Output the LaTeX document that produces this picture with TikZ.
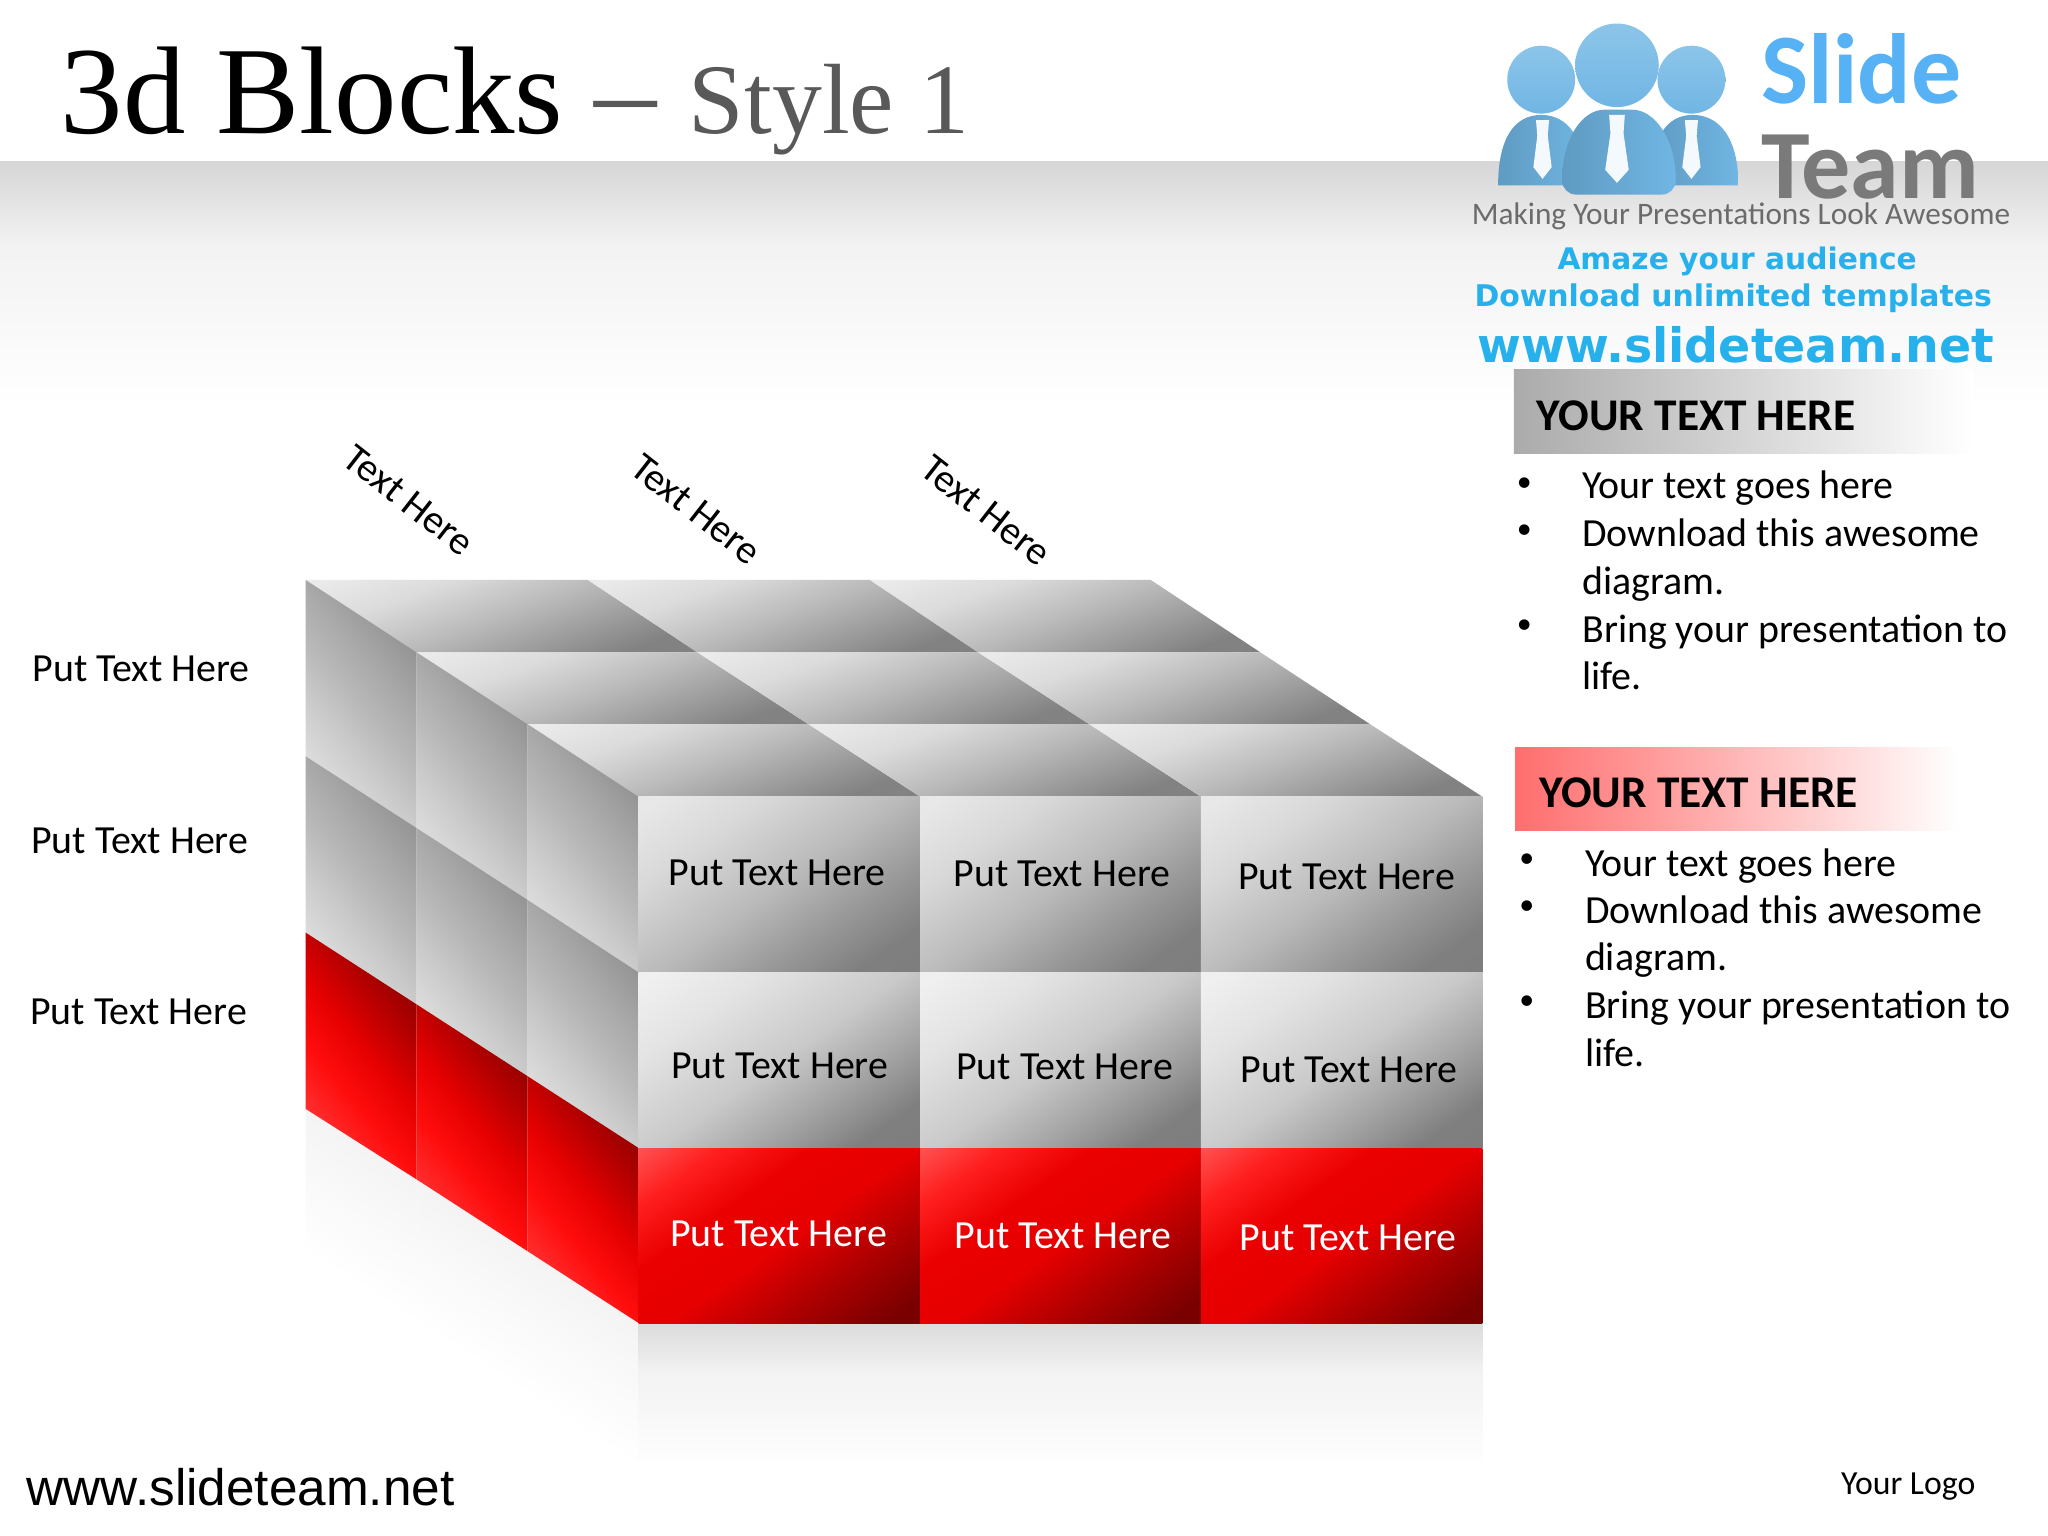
\documentclass[tikz,border=0pt]{standalone}
\usepackage{fontspec}
\usepackage{xcolor}
\usetikzlibrary{positioning,calc}
\setmainfont{Carlito}
\newfontfamily\titlefont{Liberation Serif}
\newfontfamily\webfont{Liberation Sans}
\newfontfamily\promofont{DejaVu Sans}
\definecolor{logoblue}{RGB}{112,182,228}
\definecolor{promoblue}{RGB}{38,176,236}
\definecolor{slideblue}{RGB}{86,178,244}
\pgfdeclareverticalshading{frontgrayfade}{100bp}{color(0bp)=(black!52); color(24bp)=(black!50); color(36bp)=(black!40); color(50bp)=(black!27); color(68bp)=(black!15); color(82bp)=(black!9); color(100bp)=(black!8)}
\pgfdeclareverticalshading{frontlightfade}{100bp}{color(0bp)=(black!52); color(24bp)=(black!50); color(36bp)=(black!36); color(50bp)=(black!21); color(68bp)=(black!11); color(82bp)=(black!6); color(100bp)=(black!5)}
\pgfdeclareverticalshading{frontredfade}{100bp}{color(0bp)=(red!45!black); color(20bp)=(red!48!black); color(34bp)=(red!68!black); color(48bp)=(red!90!black); color(62bp)=(red!92!black); color(74bp)=(red!88!white); color(88bp)=(red!62!white); color(100bp)=(red!60!white)}
\pgfdeclareverticalshading{topfade}{100bp}{color(0bp)=(black!50); color(26bp)=(black!49); color(38bp)=(black!38); color(50bp)=(black!27); color(66bp)=(black!14); color(80bp)=(black!8); color(100bp)=(black!7)}
\pgfdeclareverticalshading{sidefade}{100bp}{color(0bp)=(black!8); color(22bp)=(black!10); color(40bp)=(black!21); color(50bp)=(black!28); color(60bp)=(black!34); color(78bp)=(black!46); color(100bp)=(black!48)}
\pgfdeclareverticalshading{sideredfade}{100bp}{color(0bp)=(red!78!white); color(26bp)=(red!80!white); color(40bp)=(red!95!white); color(52bp)=(red!90!black); color(66bp)=(red!68!black); color(78bp)=(red!52!black); color(100bp)=(red!50!black)}
\pgfdeclareverticalshading{shinefade}{100bp}{color(0bp)=(white); color(25bp)=(white); color(58bp)=(black!5); color(75bp)=(black!14); color(100bp)=(black!14)}
\pgfdeclareverticalshading{sideshinefade}{100bp}{color(0bp)=(white); color(38bp)=(white); color(60bp)=(black!3); color(80bp)=(black!6); color(100bp)=(black!6)}
\pgfdeclareverticalshading{bandfade}{100bp}{color(0bp)=(white); color(25bp)=(white); color(58bp)=(black!5); color(75bp)=(black!16); color(100bp)=(black!16)}

\begin{document}
\begin{tikzpicture}[
    x=0.013061cm, y=-0.013061cm,
    frontgray/.style={shading=frontgrayfade, shading angle=35},
    frontlight/.style={shading=frontlightfade, shading angle=35},
    frontred/.style={shading=frontredfade, shading angle=35},
    topgray/.style={shading=topfade, shading angle=20},
    sidegray/.style={shading=sidefade, shading angle=-50},
    sidered/.style={shading=sideredfade, shading angle=-50},
    shine/.style={shading=shinefade},
    sideshine/.style={shading=sideshinefade, shading angle=-33},
    lab/.style={font=\fontsize{11.35}{13}\selectfont, inner sep=0pt},
    toplab/.style={lab, rotate=-38},
    head/.style={font=\fontsize{12.9}{15}\selectfont\bfseries, anchor=west, inner sep=0pt},
    bul/.style={font=\fontsize{8.5}{10}\selectfont, inner sep=0pt},
    item/.style={font=\fontsize{11.35}{13.6}\selectfont, anchor=north west, align=left, inner sep=0pt},
    man/.style={left color=logoblue!85!black, right color=logoblue},
    skull/.style={top color=logoblue!80!white, bottom color=logoblue},
    tie/.style={fill=white!92!logoblue}
]
\useasboundingbox (0,0) rectangle (1568,1176);
% background band
\fill[white] (0,0) rectangle (1568,1176);
\shade[shading=bandfade] (0,124) rectangle (1568,310);

% reflections
\shade[sideshine] (234,849) -- (319,903) -- (319,1040) -- (234,985) -- cycle;
\shade[sideshine] (319,903) -- (404,958) -- (404,1095) -- (319,1040) -- cycle;
\shade[sideshine] (404,958) -- (489,1013) -- (489,1150) -- (404,1095) -- cycle;
\shade[shine] (489,1013) rectangle (704.5,1125);
\shade[shine] (704.5,1013) rectangle (919.5,1125);
\shade[shine] (919.5,1013) rectangle (1135,1125);

% top of the blocks
\shade[topgray] (234,444) -- (450,444) -- (534,499.5) -- (319,499.5) -- cycle;
\shade[topgray] (450,444) -- (666,444) -- (749,499.5) -- (534,499.5) -- cycle;
\shade[topgray] (666,444) -- (881,444) -- (965,499.5) -- (749,499.5) -- cycle;
\shade[topgray] (319,499.5) -- (534,499.5) -- (619,554.5) -- (404,554.5) -- cycle;
\shade[topgray] (534,499.5) -- (749,499.5) -- (834,554.5) -- (619,554.5) -- cycle;
\shade[topgray] (749,499.5) -- (965,499.5) -- (1049,554.5) -- (834,554.5) -- cycle;
\shade[topgray] (404,554.5) -- (619,554.5) -- (704.5,610) -- (489,610) -- cycle;
\shade[topgray] (619,554.5) -- (834,554.5) -- (919.5,610) -- (704.5,610) -- cycle;
\shade[topgray] (834,554.5) -- (1049,554.5) -- (1135,610) -- (919.5,610) -- cycle;

% left side of the blocks
\shade[sidegray] (234,444) -- (319,499.5) -- (319,634) -- (234,579) -- cycle;
\shade[sidegray] (319,499.5) -- (404,554.5) -- (404,689) -- (319,634) -- cycle;
\shade[sidegray] (404,554.5) -- (489,610) -- (489,744.5) -- (404,689) -- cycle;
\shade[sidegray] (234,579) -- (319,634) -- (319,769) -- (234,714) -- cycle;
\shade[sidegray] (319,634) -- (404,689) -- (404,824) -- (319,769) -- cycle;
\shade[sidegray] (404,689) -- (489,744.5) -- (489,879) -- (404,824) -- cycle;
\shade[sidered] (234,714) -- (319,769) -- (319,903) -- (234,849) -- cycle;
\shade[sidered] (319,769) -- (404,824) -- (404,958) -- (319,903) -- cycle;
\shade[sidered] (404,824) -- (489,879) -- (489,1013) -- (404,958) -- cycle;

% front of the blocks
\shade[frontgray] (489,610) rectangle (704.5,744.5);
\shade[frontgray] (704.5,610) rectangle (919.5,744.5);
\shade[frontgray] (919.5,610) rectangle (1135,744.5);
\shade[frontlight] (489,744.5) rectangle (704.5,879);
\shade[frontlight] (704.5,744.5) rectangle (919.5,879);
\shade[frontlight] (919.5,744.5) rectangle (1135,879);
\shade[frontred] (489,879) rectangle (704.5,1013);
\shade[frontred] (704.5,879) rectangle (919.5,1013);
\shade[frontred] (919.5,879) rectangle (1135,1013);

\node[lab] (f11) at (595,668) {Put Text Here};
\node[lab] (f12) at (813,669) {Put Text Here};
\node[lab] (f13) at (1031,671) {Put Text Here};
\node[lab] (f21) at (597,816) {Put Text Here};
\node[lab] (f22) at (815,817) {Put Text Here};
\node[lab] (f23) at (1033,819) {Put Text Here};
\node[lab, white] (f31) at (596,945) {Put Text Here};
\node[lab, white] (f32) at (814,946) {Put Text Here};
\node[lab, white] (f33) at (1032,948) {Put Text Here};

\node[lab] (s1) at (108,512) {Put Text Here};
\node[lab] (s2) at (107,644) {Put Text Here};
\node[lab] (s3) at (106,775) {Put Text Here};

\node[toplab] (c1) at (313,383) {Text Here};
\node[toplab] (c2) at (533,390) {Text Here};
\node[toplab] (c3) at (755,391) {Text Here};

% title and footer
\node[anchor=base west, inner sep=0pt, font=\titlefont\fontsize{35.5}{40}\selectfont] (title) at (46,102) {3d Blocks \textcolor{black!65}{{\fontsize{35.5}{40}\selectfont –}\hspace{2pt}\fontsize{28.4}{32}\selectfont{} Style 1}};
\node[anchor=base west, inner sep=0pt, font=\webfont\fontsize{14.6}{17}\selectfont] (web) at (20,1153) {www.slideteam.net};
\node[lab, font=\fontsize{9.6}{11}\selectfont] (yl) at (1461,1138) {Your Logo};

% logo
\shade[man] (1147,142) .. controls (1147,105) and (1160,88) .. (1180,88) .. controls (1200,88) and (1214,105) .. (1214,142) -- cycle;
\shade[man] (1264,142) .. controls (1264,105) and (1276,88) .. (1296,88) .. controls (1316,88) and (1331,105) .. (1331,142) -- cycle;
\shade[man, rounded corners=4pt] (1196,149) .. controls (1196,105) and (1212,84) .. (1239,84) .. controls (1266,84) and (1283,105) .. (1283,149) -- cycle;
\shade[skull] (1180,61) ellipse (26 and 26);
\shade[skull] (1295,61) ellipse (26 and 26);
\shade[skull] (1238,50) ellipse (32 and 32);
\fill[tie] (1176,92) -- (1186,92) -- (1185,104) -- (1188,128) -- (1181,137) -- (1174,128) -- (1177,104) -- cycle;
\fill[tie] (1290,92) -- (1300,92) -- (1299,104) -- (1302,128) -- (1295,137) -- (1288,128) -- (1291,104) -- cycle;
\fill[tie] (1232,88) -- (1244,88) -- (1243,102) -- (1247,130) -- (1238,140) -- (1229,130) -- (1233,102) -- cycle;
\node[anchor=base west, inner sep=0pt, font=\fontsize{28.4}{30}\selectfont\bfseries, slideblue] (lg1) at (1348,79) {Slide};
\node[anchor=base west, inner sep=0pt, font=\fontsize{27.9}{30}\selectfont\bfseries, black!52] (lg2) at (1348,152) {Team};
\node[lab, font=\fontsize{8.9}{10}\selectfont, black!58] (lg3) at (1333,166) {Making Your Presentations Look Awesome};
\node[lab, font=\promofont\fontsize{8.45}{9}\selectfont\bfseries, promoblue] (lg4) at (1330,200) {Amaze your audience};
\node[lab, font=\promofont\fontsize{8.5}{9}\selectfont\bfseries, promoblue] (lg5) at (1327,228) {Download unlimited templates};
\node[lab, font=\promofont\fontsize{13.5}{14}\selectfont\bfseries, promoblue] (lg6) at (1329,264) {www.slideteam.net};

% text panels
\shade[left color=black!33, right color=white] (1159,283) rectangle (1510,347);
\node[head] (h1) at (1176,318) {YOUR TEXT HERE};
\node[bul] (b1) at (1167,371) {•};
\node[bul] (b2) at (1167,407) {•};
\node[bul] (b3) at (1167,480) {•};
\node[item] (t1) at (1211,360) {Your text goes here};
\node[item] (t2) at (1211,397) {Download this awesome\\diagram.};
\node[item] (t3) at (1211,470) {Bring your presentation to\\life.};

\shade[left color=red!57!white, right color=white] (1160,572) rectangle (1500,636);
\node[head] (h2) at (1178,607) {YOUR TEXT HERE};
\node[bul] (b4) at (1169,659) {•};
\node[bul] (b5) at (1169,695) {•};
\node[bul] (b6) at (1169,768) {•};
\node[item] (t4) at (1213,649) {Your text goes here};
\node[item] (t5) at (1213,685) {Download this awesome\\diagram.};
\node[item] (t6) at (1213,758) {Bring your presentation to\\life.};
\end{tikzpicture}
\end{document}
